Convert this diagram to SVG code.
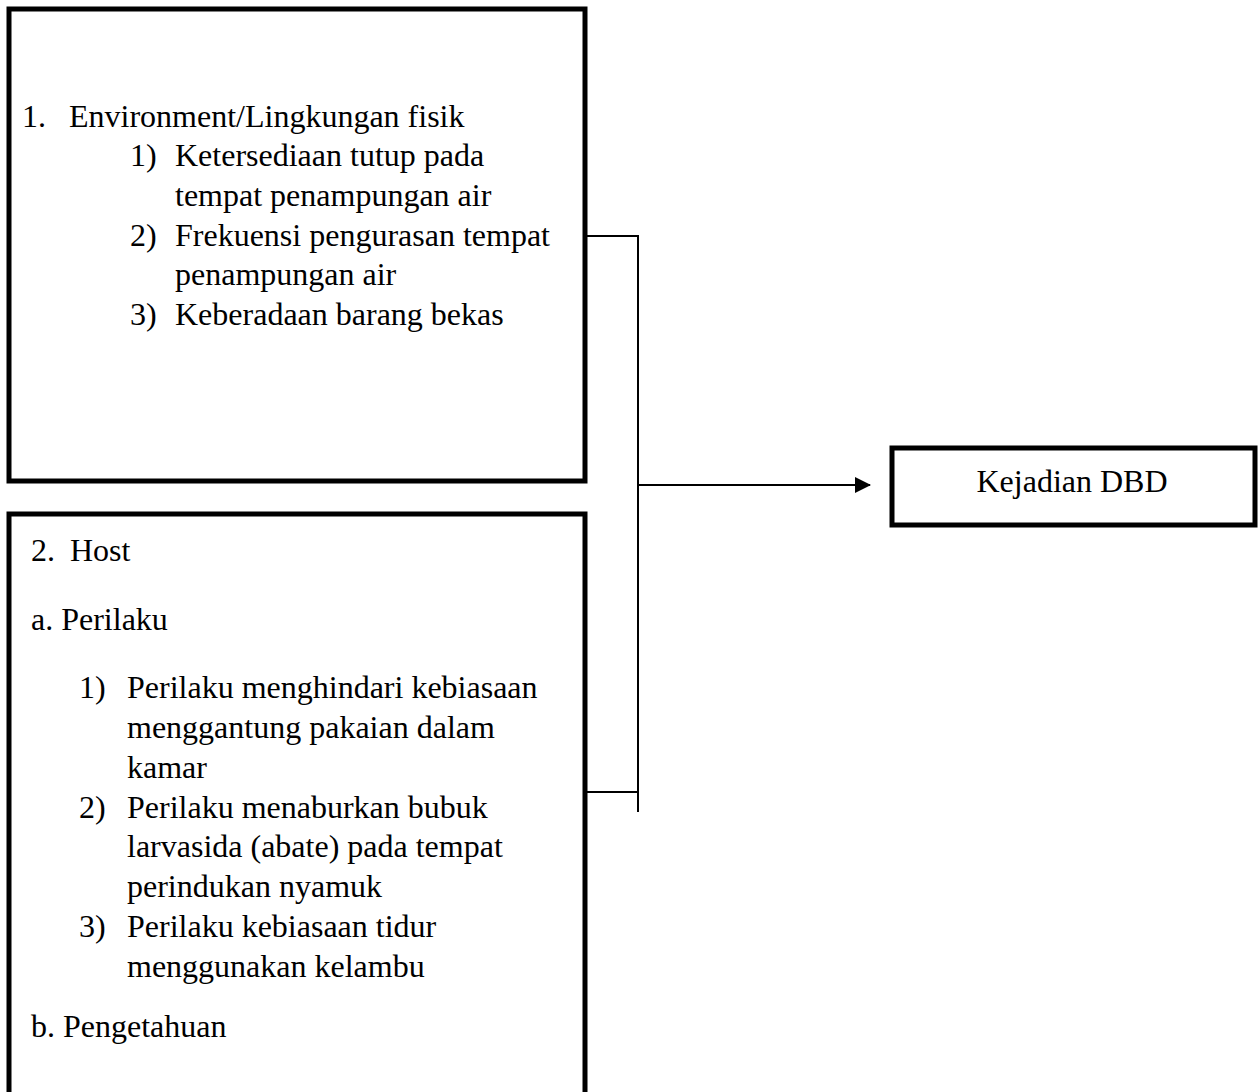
<svg xmlns="http://www.w3.org/2000/svg" width="1259" height="1092" viewBox="0 0 1259 1092">
<defs>
<style>
.box{fill:#fff;stroke:#000;stroke-width:5}
.t{font-family:"Liberation Serif","Times New Roman",serif;font-size:32px;fill:#000}
.c{fill:none;stroke:#000;stroke-width:2}
</style>
<marker id="ah" markerWidth="16" markerHeight="16" refX="15" refY="8" orient="auto" markerUnits="userSpaceOnUse" viewBox="0 0 16 16">
<path d="M0,0 L16,8 L0,16 Z" fill="#000"/>
</marker>
</defs>
<rect width="1259" height="1092" fill="#fff"/>
<g id="environment">
<rect class="box" x="9" y="9" width="576" height="472"/>
<text class="t" x="22" y="127">1.</text>
<text class="t" x="69" y="127">Environment/Lingkungan fisik</text>
<text class="t" x="130" y="166">1)</text>
<text class="t" x="175" y="166">Ketersediaan tutup pada</text>
<text class="t" x="175" y="206">tempat penampungan air</text>
<text class="t" x="130" y="246">2)</text>
<text class="t" x="175" y="246">Frekuensi pengurasan tempat</text>
<text class="t" x="175" y="285">penampungan air</text>
<text class="t" x="130" y="325">3)</text>
<text class="t" x="175" y="325">Keberadaan barang bekas</text>
</g>
<g id="host">
<rect class="box" x="9" y="514" width="576" height="600"/>
<text class="t" x="31" y="561">2.</text>
<text class="t" x="70" y="561">Host</text>
<text class="t" x="31" y="630">a. Perilaku</text>
<text class="t" x="79" y="698">1)</text>
<text class="t" x="127" y="698">Perilaku menghindari kebiasaan</text>
<text class="t" x="127" y="738">menggantung pakaian dalam</text>
<text class="t" x="127" y="778">kamar</text>
<text class="t" x="79" y="818">2)</text>
<text class="t" x="127" y="818">Perilaku menaburkan bubuk</text>
<text class="t" x="127" y="857">larvasida (abate) pada tempat</text>
<text class="t" x="127" y="897">perindukan nyamuk</text>
<text class="t" x="79" y="937">3)</text>
<text class="t" x="127" y="937">Perilaku kebiasaan tidur</text>
<text class="t" x="127" y="977">menggunakan kelambu</text>
<text class="t" x="31" y="1037">b. Pengetahuan</text>
</g>
<g id="kejadian">
<rect class="box" x="892" y="448" width="363" height="77"/>
<text class="t" x="1072" y="492" text-anchor="middle">Kejadian DBD</text>
</g>
<g id="connectors">
<polyline class="c" points="587,236 638,236 638,812"/>
<line class="c" x1="587" y1="792" x2="638" y2="792"/>
<line class="c" x1="638" y1="485" x2="870" y2="485" marker-end="url(#ah)"/>
</g>
</svg>
